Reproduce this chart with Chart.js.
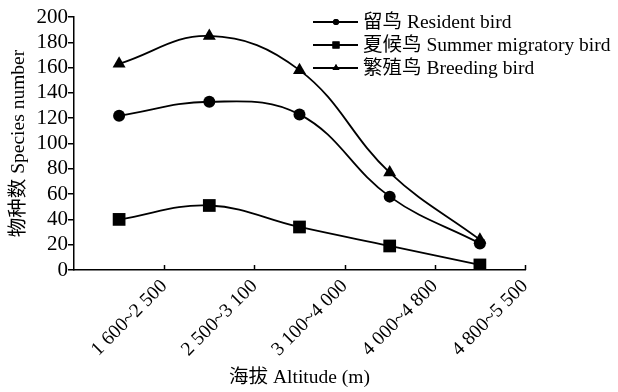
<!DOCTYPE html>
<html>
<head>
<meta charset="utf-8">
<script src="https://cdn.jsdelivr.net/npm/chart.js@4"></script>
<style>
  html, body { margin: 0; padding: 0; background: #fff; }
  #wrap { width: 618px; height: 392px; position: relative; }
</style>
</head>
<body>
<div id="wrap"><canvas id="c"></canvas></div>
<script>
// altitude bands (m)
const categories = ['1 600~2 500', '2 500~3 100', '3 100~4 000', '4 000~4 800', '4 800~5 500'];
const resident = [122, 133, 123, 58, 21];
const summer = [40, 51, 34, 19, 4];
const breeding = [163, 185, 158, 77, 24];
const yTicks = [0, 20, 40, 60, 80, 100, 120, 140, 160, 180, 200];

const serif = '"Liberation Serif", "Times New Roman", "Noto Sans CJK SC", serif';

// points sit in the middle of each band
function toPoints(arr) {
    return arr.map((v, i) => ({ x: i + 0.5, y: v }));
}

const series = [
    { label: '留鸟 Resident bird', data: resident, style: 'circle', r: 6, lr: 3 },
    { label: '夏候鸟 Summer migratory bird', data: summer, style: 'rect', r: 9, lr: 5 },
    { label: '繁殖鸟 Breeding bird', data: breeding, style: 'triangle', r: 7.5, lr: 4 }
];

// legend drawn inside the plot, line + small marker
const legendPlugin = {
    id: 'birdLegend',
    afterDraw(chart) {
        const ctx = chart.ctx;
        ctx.save();
        series.forEach((s, i) => {
            const y = 22 + i * 23;
            ctx.strokeStyle = '#000';
            ctx.lineWidth = 1.8;
            ctx.beginPath();
            ctx.moveTo(313, y);
            ctx.lineTo(358, y);
            ctx.stroke();
            ctx.fillStyle = '#000';
            Chart.helpers.drawPoint(ctx, { pointStyle: s.style, radius: s.lr, borderWidth: 0 }, 336, y);
            ctx.fill();
            ctx.font = '19.5px ' + serif;
            ctx.textBaseline = 'middle';
            ctx.textAlign = 'left';
            ctx.fillText(s.label, 363, y + 1);
        });
        ctx.restore();
    }
};

// x ticks point inward (upwards) from the axis line
const innerTicks = {
    id: 'innerTicks',
    afterDraw(chart) {
        const ctx = chart.ctx;
        const xs = chart.scales.x;
        const bottom = chart.chartArea.bottom;
        ctx.save();
        ctx.strokeStyle = '#000';
        ctx.lineWidth = 1.5;
        for (let i = 1; i <= categories.length; i++) {
            const px = Math.round(xs.getPixelForValue(i)) + 0.5;
            ctx.beginPath();
            ctx.moveTo(px, bottom);
            ctx.lineTo(px, bottom - 5);
            ctx.stroke();
        }
        ctx.restore();
    }
};

new Chart(document.getElementById('c'), {
    type: 'line',
    data: {
        datasets: series.map(s => ({
            label: s.label,
            data: toPoints(s.data),
            borderColor: '#000',
            backgroundColor: '#000',
            borderWidth: 1.8,
            pointStyle: s.style,
            pointRadius: s.r,
            pointBackgroundColor: '#000',
            pointBorderColor: '#000',
            pointBorderWidth: 0,
            tension: 0.4,
            fill: false
        }))
    },
    options: {
        responsive: true,
        maintainAspectRatio: false,
        animation: false,
        layout: { padding: { top: 17, right: 93, left: 0, bottom: 0 } },
        plugins: {
            legend: { display: false },
            tooltip: { enabled: false }
        },
        scales: {
            x: {
                type: 'linear',
                min: 0,
                max: 5,
                afterBuildTicks(scale) {
                    scale.ticks = [0, 1, 2, 3, 4, 5].map(v => ({ value: v }));
                },
                afterFit(scale) { scale.height = 122; },
                grid: { display: false, drawTicks: false },
                border: { display: true, color: '#000', width: 1.5 },
                ticks: {
                    color: '#000',
                    font: { family: serif, size: 19.5 },
                    minRotation: 45,
                    maxRotation: 45,
                    autoSkip: false,
                    padding: 5,
                    callback: v => categories[v - 1] || ''
                },
                title: {
                    display: true,
                    text: '海拔 Altitude (m)',
                    color: '#000',
                    font: { family: serif, size: 19.5 },
                    padding: { top: 0, bottom: 2 }
                }
            },
            y: {
                min: 0,
                max: 200,
                afterBuildTicks(scale) {
                    scale.ticks = yTicks.map(v => ({ value: v }));
                },
                afterFit(scale) { scale.width = 74; },
                grid: { drawOnChartArea: false, drawTicks: true, tickLength: 6, color: '#000', lineWidth: 1.5 },
                border: { display: true, color: '#000', width: 1.5 },
                ticks: {
                    color: '#000',
                    font: { family: serif, size: 21, lineHeight: 1 },
                    autoSkip: false,
                    padding: 0
                },
                title: {
                    display: true,
                    text: '物种数 Species number',
                    color: '#000',
                    font: { family: serif, size: 19.5 },
                    padding: { top: 7, bottom: 0 }
                }
            }
        }
    },
    plugins: [legendPlugin, innerTicks]
});
</script>
</body>
</html>
